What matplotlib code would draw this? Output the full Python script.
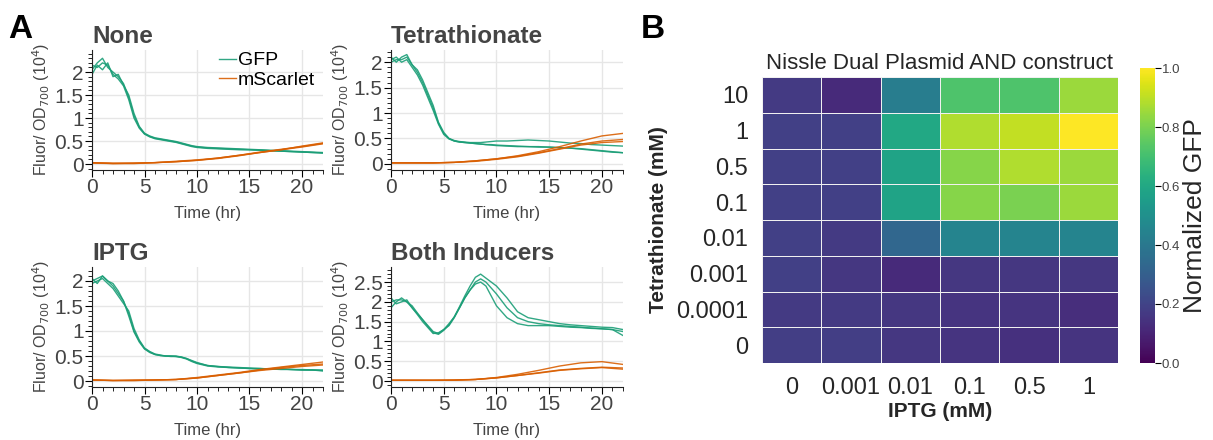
import matplotlib.pyplot as plt
import numpy as np
from matplotlib.ticker import MultipleLocator, FuncFormatter

plt.rcParams['font.family'] = ['Liberation Sans', 'DejaVu Sans']

# time grids (hr)
t_gfp = [0, 0.5, 1, 1.5, 2, 2.5, 3, 3.5, 4, 4.5, 5, 5.5, 6, 6.5, 7, 7.5, 8, 8.5, 9, 9.5, 10,
         11, 12, 13, 14, 15, 16, 17, 18, 19, 20, 21, 22]
t_rfp = [0, 2, 4, 6, 8, 10, 12, 14, 16, 18, 20, 22]

# panel: None
none_gfp = [
    [2.05, 2.2, 2.3, 2.1, 2.0, 1.9, 1.75, 1.45, 1.05, 0.8, 0.66, 0.6, 0.56, 0.54, 0.52, 0.5, 0.48, 0.45, 0.42, 0.39, 0.37,
     0.35, 0.34, 0.33, 0.32, 0.31, 0.30, 0.29, 0.28, 0.27, 0.26, 0.25, 0.24],
    [2.15, 2.1, 2.2, 2.15, 1.95, 1.85, 1.7, 1.4, 1.0, 0.78, 0.65, 0.59, 0.55, 0.53, 0.51, 0.49, 0.47, 0.44, 0.41, 0.38, 0.36,
     0.34, 0.33, 0.32, 0.31, 0.31, 0.30, 0.29, 0.28, 0.27, 0.26, 0.25, 0.24],
    [1.95, 2.15, 2.05, 2.2, 1.9, 1.95, 1.72, 1.5, 1.1, 0.82, 0.67, 0.61, 0.57, 0.55, 0.53, 0.51, 0.49, 0.46, 0.43, 0.40, 0.38,
     0.36, 0.35, 0.34, 0.33, 0.32, 0.31, 0.30, 0.29, 0.28, 0.27, 0.26, 0.25],
]
none_rfp = [
    [0.03, 0.01, 0.01, 0.03, 0.05, 0.08, 0.12, 0.18, 0.25, 0.31, 0.37, 0.44],
    [0.02, 0.01, 0.02, 0.03, 0.05, 0.08, 0.13, 0.19, 0.26, 0.32, 0.38, 0.45],
    [0.03, 0.02, 0.02, 0.03, 0.06, 0.09, 0.13, 0.19, 0.25, 0.31, 0.39, 0.46],
]

# panel: Tetrathionate
tet_gfp = [
    [2.0, 2.05, 2.05, 2.1, 1.95, 1.8, 1.6, 1.35, 1.1, 0.8, 0.6, 0.5, 0.46, 0.44, 0.43, 0.42, 0.42, 0.42, 0.43, 0.44, 0.45,
     0.45, 0.46, 0.47, 0.46, 0.45, 0.43, 0.41, 0.40, 0.38, 0.37, 0.36, 0.35],
    [2.05, 2.1, 2.0, 2.05, 1.9, 1.75, 1.55, 1.3, 1.05, 0.78, 0.58, 0.49, 0.45, 0.43, 0.42, 0.41, 0.40, 0.39, 0.38, 0.38, 0.37,
     0.36, 0.35, 0.34, 0.34, 0.33, 0.32, 0.31, 0.30, 0.28, 0.26, 0.24, 0.22],
    [2.1, 2.0, 2.1, 2.15, 1.95, 1.85, 1.65, 1.4, 1.15, 0.82, 0.62, 0.5, 0.45, 0.43, 0.42, 0.41, 0.40, 0.39, 0.38, 0.37, 0.36,
     0.35, 0.34, 0.34, 0.33, 0.33, 0.32, 0.31, 0.29, 0.27, 0.25, 0.23, 0.22],
]
tet_rfp = [
    [0.02, 0.02, 0.02, 0.03, 0.06, 0.10, 0.16, 0.24, 0.34, 0.45, 0.55, 0.60],
    [0.02, 0.02, 0.02, 0.03, 0.06, 0.10, 0.15, 0.22, 0.30, 0.39, 0.45, 0.48],
    [0.02, 0.02, 0.02, 0.03, 0.05, 0.09, 0.14, 0.21, 0.29, 0.37, 0.42, 0.44],
]

# panel: IPTG
iptg_gfp = [
    [2.0, 2.05, 2.1, 2.0, 1.9, 1.75, 1.6, 1.35, 1.0, 0.8, 0.65, 0.58, 0.53, 0.51, 0.5, 0.5, 0.5, 0.48, 0.45, 0.4, 0.36,
     0.31, 0.29, 0.27, 0.26, 0.25, 0.24, 0.24, 0.23, 0.23, 0.22, 0.22, 0.22],
    [1.95, 2.0, 2.05, 1.95, 1.85, 1.7, 1.55, 1.4, 1.05, 0.82, 0.66, 0.59, 0.54, 0.52, 0.5, 0.49, 0.49, 0.47, 0.44, 0.39, 0.35,
     0.30, 0.28, 0.27, 0.26, 0.25, 0.25, 0.24, 0.24, 0.23, 0.23, 0.22, 0.21],
    [2.05, 1.95, 2.1, 2.0, 1.95, 1.8, 1.6, 1.3, 0.98, 0.78, 0.64, 0.57, 0.53, 0.51, 0.5, 0.5, 0.49, 0.48, 0.45, 0.41, 0.37,
     0.31, 0.29, 0.28, 0.27, 0.26, 0.25, 0.24, 0.24, 0.23, 0.22, 0.22, 0.20],
]
iptg_rfp = [
    [0.02, 0.01, 0.01, 0.02, 0.03, 0.07, 0.12, 0.17, 0.23, 0.28, 0.33, 0.38],
    [0.02, 0.01, 0.01, 0.02, 0.03, 0.06, 0.11, 0.16, 0.22, 0.27, 0.31, 0.34],
    [0.02, 0.01, 0.02, 0.02, 0.03, 0.06, 0.11, 0.16, 0.21, 0.25, 0.29, 0.32],
]

# panel: Both Inducers
both_gfp = [
    [2.0, 2.05, 2.05, 2.0, 1.85, 1.7, 1.55, 1.4, 1.25, 1.2, 1.3, 1.4, 1.6, 1.85, 2.1, 2.3, 2.45, 2.5, 2.4, 2.15, 1.9,
     1.6, 1.45, 1.4, 1.4, 1.4, 1.38, 1.36, 1.35, 1.33, 1.32, 1.3, 1.25],
    [1.85, 2.0, 2.1, 2.0, 1.9, 1.72, 1.55, 1.38, 1.22, 1.18, 1.28, 1.42, 1.62, 1.88, 2.15, 2.4, 2.62, 2.7, 2.6, 2.5, 2.4,
     2.1, 1.75, 1.6, 1.55, 1.5, 1.45, 1.42, 1.4, 1.38, 1.36, 1.35, 1.3],
    [2.1, 1.95, 2.0, 2.05, 1.85, 1.68, 1.5, 1.35, 1.2, 1.22, 1.3, 1.45, 1.62, 1.85, 2.1, 2.3, 2.5, 2.58, 2.5, 2.35, 2.2,
     1.85, 1.6, 1.5, 1.45, 1.42, 1.4, 1.38, 1.36, 1.34, 1.32, 1.3, 1.15],
]
both_rfp = [
    [0.02, 0.02, 0.02, 0.03, 0.04, 0.09, 0.17, 0.27, 0.38, 0.46, 0.49, 0.42],
    [0.02, 0.02, 0.02, 0.02, 0.04, 0.08, 0.14, 0.21, 0.28, 0.32, 0.35, 0.33],
    [0.02, 0.02, 0.02, 0.02, 0.04, 0.08, 0.14, 0.20, 0.27, 0.31, 0.34, 0.30],
]

panel_titles = ['None', 'Tetrathionate', 'IPTG', 'Both Inducers']

# heatmap
tet_labels = ['10', '1', '0.5', '0.1', '0.01', '0.001', '0.0001', '0']
iptg_labels = ['0', '0.001', '0.01', '0.1', '0.5', '1']
norm_gfp = [
    [0.17, 0.12, 0.42, 0.72, 0.72, 0.85],
    [0.19, 0.19, 0.60, 0.88, 0.91, 1.00],
    [0.19, 0.19, 0.58, 0.82, 0.88, 0.85],
    [0.19, 0.19, 0.58, 0.82, 0.80, 0.85],
    [0.19, 0.17, 0.33, 0.45, 0.45, 0.45],
    [0.19, 0.16, 0.12, 0.16, 0.16, 0.16],
    [0.17, 0.17, 0.16, 0.15, 0.15, 0.13],
    [0.18, 0.18, 0.16, 0.15, 0.14, 0.15],
]

green = '#1b9e77'
orange = '#d95f02'
txt = '#444444'

fig = plt.figure(figsize=(12.13, 4.4), dpi=100)

W, H = 1213, 440
boxes = [(92, 50, 323, 170), (391, 50, 623, 170), (92, 267, 323, 387), (391, 267, 623, 387)]
ylims = [(-0.13, 2.48), (-0.12, 2.24), (-0.12, 2.28), (-0.15, 2.88)]
gfps = [none_gfp, tet_gfp, iptg_gfp, both_gfp]
rfps = [none_rfp, tet_rfp, iptg_rfp, both_rfp]

fmt = FuncFormatter(lambda v, p: '%g' % v)

for i in range(4):
    x0, y0, x1, y1 = boxes[i]
    ax = fig.add_axes([x0 / W, 1 - y1 / H, (x1 - x0) / W, (y1 - y0) / H])
    for j, rep in enumerate(gfps[i]):
        ax.plot(t_gfp, rep, color=green, lw=1, alpha=0.9, label='GFP' if j == 0 else None)
    for j, rep in enumerate(rfps[i]):
        ax.plot(t_rfp, rep, color=orange, lw=1, alpha=0.9, label='mScarlet' if j == 0 else None)
    ax.set_xlim(0, 22)
    ax.set_ylim(*ylims[i])
    ax.xaxis.set_major_locator(MultipleLocator(5))
    ax.xaxis.set_minor_locator(MultipleLocator(1))
    ax.yaxis.set_major_locator(MultipleLocator(0.5))
    ax.yaxis.set_minor_locator(MultipleLocator(0.1))
    ax.yaxis.set_major_formatter(fmt)
    ax.grid(True, which='major', color='#e6e6e6', lw=1)
    ax.set_axisbelow(True)
    for s in ['top', 'right']:
        ax.spines[s].set_visible(False)
    for s in ['left', 'bottom']:
        ax.spines[s].set_color('#222222')
        ax.spines[s].set_linewidth(0.8)
    ax.tick_params(which='major', length=5, width=0.8, labelsize=15, labelcolor=txt, pad=1)
    ax.tick_params(which='minor', length=3, width=0.6)
    ax.set_xlabel('Time (hr)', fontsize=12, color=txt, labelpad=6)
    ax.set_ylabel('Fluor/ OD$_{700}$ (10$^4$)', fontsize=11.5, color=txt, labelpad=2)
    ax.set_title(panel_titles[i], loc='left', fontsize=17.5, fontweight='bold', color=txt, pad=5)
    if i == 0:
        ax.legend(loc='upper right', frameon=False, fontsize=14, handlelength=0.9,
                  handletextpad=0.1, borderaxespad=0.0, labelspacing=0.1,
                  bbox_to_anchor=(1.0, 1.05))

# heatmap panel
hx0, hy0, hx1, hy1 = 762, 77, 1118, 363
hax = fig.add_axes([hx0 / W, 1 - hy1 / H, (hx1 - hx0) / W, (hy1 - hy0) / H])
data = np.array(norm_gfp)
mesh = hax.pcolormesh(data, cmap='viridis', vmin=0, vmax=1, edgecolors='#f0f0f0', linewidth=0.4)
hax.set_xlim(0, len(iptg_labels))
hax.set_ylim(len(tet_labels), 0)
hax.set_xticks(np.arange(len(iptg_labels)) + 0.5)
hax.set_xticklabels(iptg_labels)
hax.set_yticks(np.arange(len(tet_labels)) + 0.5)
hax.set_yticklabels(tet_labels)
hax.tick_params(length=0, labelsize=17, labelcolor='#262626')
hax.tick_params(axis='x', pad=10)
hax.tick_params(axis='y', pad=10)
for s in hax.spines.values():
    s.set_visible(False)
hax.set_xlabel('IPTG (mM)', fontsize=15, fontweight='bold', color='#262626', labelpad=2)
hax.set_ylabel('Tetrathionate (mM)', fontsize=15, fontweight='bold', color='#262626', labelpad=6)
hax.set_title('Nissle Dual Plasmid AND construct', fontsize=16, color='#262626', pad=6)

cax = fig.add_axes([1140 / W, 1 - 363 / H, 15 / W, (363 - 68) / H])
cb = fig.colorbar(mesh, cax=cax)
cb.outline.set_visible(False)
cb.set_ticks([0.0, 0.2, 0.4, 0.6, 0.8, 1.0])
cb.ax.tick_params(labelsize=9.5, length=4, width=0.8, labelcolor='#444444', pad=1)
cb.set_label('Normalized GFP', fontsize=19, color='#262626', labelpad=2)

fig.text(8 / W, 1 - 30 / H, 'A', fontsize=24, fontweight='bold', va='center', ha='left')
fig.text(641 / W, 1 - 30 / H, 'B', fontsize=24, fontweight='bold', va='center', ha='left')

fig.savefig('out.png', dpi=100)
